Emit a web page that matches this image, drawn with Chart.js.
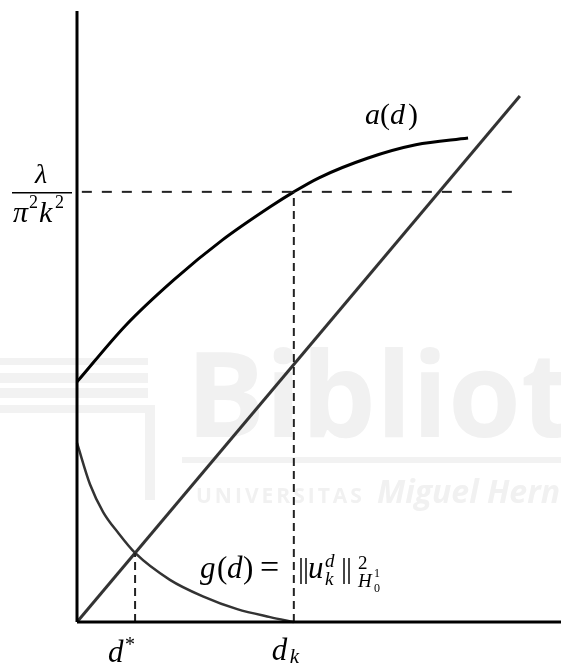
<!DOCTYPE html>
<html>
<head>
<meta charset="utf-8">
<script src="https://cdn.jsdelivr.net/npm/chart.js@4.4.1/dist/chart.umd.min.js"></script>
<style>
  html, body { margin: 0; padding: 0; background: #fff; }
</style>
</head>
<body>
<canvas id="diagram" width="561" height="664"></canvas>
<script>
// a(d): concave increasing branch
const aD = [0, 1, 2, 3, 4, 4.48, 5, 6, 7, 8.08];
const aV = [3.93, 4.85, 5.60, 6.25, 6.80, 7.04, 7.27, 7.59, 7.81, 7.92];

// g(d) = ||u_k^d||^2, decreasing to zero at d_k
const gD = [0, 0.27, 0.54, 0.85, 1.20, 1.92, 2.60, 3.31, 3.99, 4.48];
const gV = [2.93, 2.25, 1.80, 1.46, 1.13, 0.69, 0.42, 0.21, 0.08, 0];

// straight line through the origin
const lineD = [0, 9.15];
const lineV = [0, 8.61];

// special values
const LEVEL = 7.04;   // lambda / (pi^2 k^2)
const DK = 4.48;      // d_k
const DSTAR = 1.20;   // d*
const DSTAR_V = 1.13; // g(d*), on the line as well
const levelD = [0.1, 9.13];

const pts = (xs, ys) => xs.map((x, i) => ({ x, y: ys[i] }));
const serif = '"Liberation Serif", "DejaVu Serif", serif';

function drawRuns(ctx, x0, y0, parts) {
  parts.forEach(([txt, size, italic, dx, dy]) => {
    ctx.font = (italic ? 'italic ' : '') + size + 'px ' + serif;
    ctx.fillText(txt, x0 + dx, y0 + dy);
  });
}

const backdrop = {
  id: 'backdrop',
  beforeDraw(chart) {
    const ctx = chart.ctx;
    ctx.save();
    ctx.fillStyle = '#fff';
    ctx.fillRect(0, 0, chart.width, chart.height);
    // faint library watermark
    ctx.fillStyle = '#f2f2f2';
    ctx.fillRect(0, 358, 148, 7);
    ctx.fillRect(0, 373, 148, 10);
    ctx.fillRect(0, 388, 148, 10);
    ctx.fillRect(0, 405, 150, 8);
    ctx.fillRect(145, 405, 10, 95);
    ctx.fillRect(182, 457, chart.width - 182, 6);
    ctx.fillStyle = '#f1f1f1';
    ctx.font = 'bold 118px "Open Sans", sans-serif';
    ctx.fillText('Biblioteca', 186, 437);
    ctx.font = 'bold 21px "Open Sans", sans-serif';
    ctx.letterSpacing = '3px';
    ctx.fillText('UNIVERSITAS', 196, 503);
    ctx.letterSpacing = '0px';
    ctx.font = 'italic bold 32px "Open Sans", sans-serif';
    ctx.fillText('Miguel Hernández', 377, 503);
    ctx.restore();
  }
};

const labels = {
  id: 'labels',
  afterDraw(chart) {
    const ctx = chart.ctx;
    const xs = chart.scales.x, ys = chart.scales.y;
    const area = chart.chartArea;
    ctx.save();
    ctx.fillStyle = '#000';
    ctx.strokeStyle = '#000';
    ctx.textBaseline = 'alphabetic';

    // lambda / (pi^2 k^2) beside the level line
    const cx = area.left - 36;
    const by = ys.getPixelForValue(LEVEL) + 1;
    ctx.textAlign = 'center';
    ctx.font = 'italic 28px ' + serif;
    ctx.fillText('λ', cx, by - 10);
    ctx.textAlign = 'left';
    ctx.lineWidth = 1.5;
    ctx.beginPath();
    ctx.moveTo(cx - 29, by);
    ctx.lineTo(cx + 31, by);
    ctx.stroke();
    drawRuns(ctx, cx, by + 29, [
      ['π', 30, true, -28, 0],
      ['2', 18, false, -12, -14],
      ['k', 30, true, -2, 0],
      ['2', 18, false, 14, -14]
    ]);

    // a(d)
    drawRuns(ctx, xs.getPixelForValue(5.95), ys.getPixelForValue(8.15), [
      ['a', 30, true, 0, 0],
      ['(', 30, false, 15, 0],
      ['d', 30, true, 25, 0],
      [')', 30, false, 43, 0]
    ]);

    // g(d) = ||u_k^d||^2_{H_0^1}
    drawRuns(ctx, xs.getPixelForValue(2.54), ys.getPixelForValue(0.72), [
      ['g', 31, true, 0, 0],
      ['(', 31, false, 17, 0],
      ['d', 31, true, 27, 0],
      [')', 31, false, 43, 0],
      ['=', 34, false, 60, 0],
      ['|', 30, false, 98, 0],
      ['|', 30, false, 103, 0],
      ['u', 31, true, 108, 0],
      ['d', 19, true, 125, -11],
      ['k', 19, true, 125, 7],
      ['|', 30, false, 141, 0],
      ['|', 30, false, 146, 0],
      ['2', 19, false, 158, -9],
      ['H', 19, true, 158, 9],
      ['1', 12, false, 174, -1],
      ['0', 12, false, 174, 14]
    ]);

    // d* and d_k under the horizontal axis
    drawRuns(ctx, xs.getPixelForValue(DSTAR) - 27, area.bottom + 40, [
      ['d', 31, true, 0, 0],
      ['*', 20, false, 17, -11]
    ]);
    drawRuns(ctx, xs.getPixelForValue(DK) - 22, area.bottom + 38, [
      ['d', 31, true, 0, 0],
      ['k', 21, true, 18, 3]
    ]);
    ctx.restore();
  }
};

const line = (data, color, width, extra) => Object.assign({
  data, borderColor: color, borderWidth: width, showLine: true,
  pointRadius: 0, fill: false, clip: false
}, extra || {});

new Chart(document.getElementById('diagram'), {
  type: 'scatter',
  data: {
    datasets: [
      line(pts([0, 0], [0, 10]), '#000', 3),
      line(pts([0, 10], [0, 0]), '#000', 3),
      line(pts(levelD, [LEVEL, LEVEL]), '#222', 2, { borderDash: [10, 10] }),
      line(pts([DK, DK], [0, LEVEL]), '#222', 2, { borderDash: [8, 5] }),
      line(pts([DSTAR, DSTAR], [0, DSTAR_V]), '#222', 2, { borderDash: [8, 5] }),
      line(pts(lineD, lineV), '#333', 3),
      line(pts(gD, gV), '#333', 2.5, { cubicInterpolationMode: 'monotone' }),
      line(pts(aD, aV), '#000', 3, { cubicInterpolationMode: 'monotone' })
    ]
  },
  options: {
    responsive: false,
    animation: false,
    layout: { padding: { left: 77, right: 0, top: 11, bottom: 42 } },
    plugins: { legend: { display: false }, tooltip: { enabled: false } },
    scales: {
      x: { type: 'linear', min: 0, max: 10, display: false },
      y: { type: 'linear', min: 0, max: 10, display: false }
    }
  },
  plugins: [backdrop, labels]
});
</script>
</body>
</html>
